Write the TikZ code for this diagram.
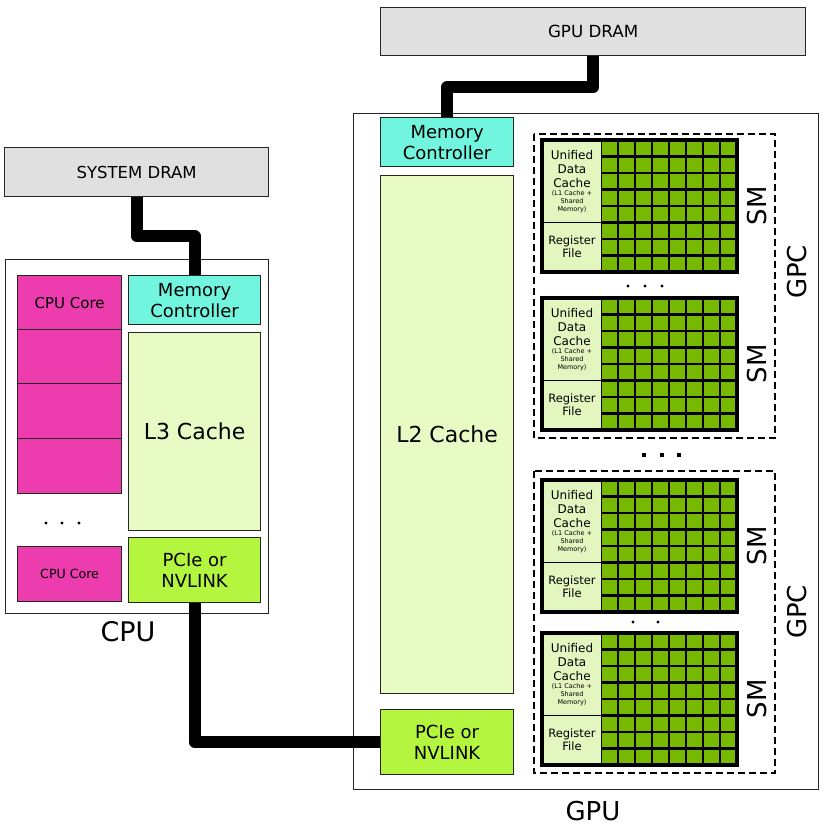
\documentclass[tikz,border=0pt]{standalone}
\usepackage{fontspec}
\setmainfont{DejaVu Sans}
\definecolor{corepink}{HTML}{EC3CAE}
\definecolor{memctl}{HTML}{72F5DE}
\definecolor{cachelt}{HTML}{E8FBC4}
\definecolor{linkgrn}{HTML}{B4F540}
\definecolor{smgreen}{HTML}{76B900}
\definecolor{panelgrn}{HTML}{E4F6C0}
\definecolor{dramgray}{HTML}{E0E0E0}
\newcommand{\fsz}[2]{\fontsize{#1}{#2}\selectfont}
\tikzset{
  blk/.style={draw=black!85, line width=1.2pt, anchor=north west, inner sep=0pt, align=center},
  wire/.style={line width=12pt, line join=round},
  gpcbox/.style={draw, dash pattern=on 7pt off 4pt, line width=1.8pt},
  cell/.style={line width=2.4pt},
}
\begin{document}
\begin{tikzpicture}[x=1pt,y=-1pt]
\useasboundingbox (0,0) rectangle (828,836);
% memories
\node[blk, fill=dramgray, minimum width=264pt, minimum height=49pt, font=\fsz{16.5}{20}] (sysdram) at (4,147) {SYSTEM DRAM};
\node[blk, fill=dramgray, minimum width=425pt, minimum height=48pt, font=\fsz{16.7}{20}] (gpudram) at (380,7) {GPU DRAM};
% CPU
\node[blk, fill=white, minimum width=263pt, minimum height=354pt] (cpu) at (5,259) {};
\node[font=\fsz{27}{30}] (cpulbl) at (128,632) {CPU};
\node[blk, fill=corepink, minimum width=104pt, minimum height=54pt, font=\fsz{15}{18}] (core1) at (17,275) {CPU Core};
\node[blk, fill=corepink, minimum width=104pt, minimum height=54pt] (core2) at (17,329) {};
\node[blk, fill=corepink, minimum width=104pt, minimum height=55pt] (core3) at (17,383) {};
\node[blk, fill=corepink, minimum width=104pt, minimum height=55pt] (core4) at (17,438) {};
\node[blk, fill=corepink, minimum width=104pt, minimum height=55pt, font=\fsz{12.6}{15}] (coren) at (17,546) {CPU Core};
\foreach \x in {46,62,79} \fill (\x,523) circle (1.6pt);
\node[blk, fill=memctl, minimum width=132pt, minimum height=49pt, font=\fsz{18}{21}] (cpumc) at (128,275) {Memory\\Controller};
\node[blk, fill=cachelt, minimum width=132pt, minimum height=198pt, font=\fsz{22}{26}] (l3) at (128,332) {L3 Cache};
\node[blk, fill=linkgrn, minimum width=132pt, minimum height=65pt, font=\fsz{18}{21}] (cpulink) at (128,537) {PCIe or\\NVLINK};
% GPU
\node[blk, fill=white, minimum width=465pt, minimum height=676pt] (gpu) at (353,113) {};
\node[font=\fsz{26}{30}] (gpulbl) at (593,811) {GPU};
\node[blk, fill=memctl, minimum width=133pt, minimum height=49pt, font=\fsz{18}{21}] (gpumc) at (380,117) {Memory\\Controller};
\node[blk, fill=cachelt, minimum width=133pt, minimum height=518pt, font=\fsz{22}{26}] (l2) at (380,175) {L2 Cache};
\node[blk, fill=linkgrn, minimum width=133pt, minimum height=65pt, font=\fsz{18}{21}] (gpulink) at (380,709) {PCIe or\\NVLINK};
% GPCs
\draw[gpcbox] (534,134) rectangle (775,438);
\draw[gpcbox] (534,471) rectangle (775,773);
\node[rotate=90, font=\fsz{26}{30}] (gpc1) at (797,272) {GPC};
\node[rotate=90, font=\fsz{26}{30}] (gpc2) at (797,612) {GPC};
% SMs
\foreach \y/\n in {140/1,298/2,480/3,633/4}{
  \fill[smgreen] (601,\y) rectangle (737,{\y+132});
  \foreach \c in {1,...,7} \draw[cell] ({601+17*\c},\y) -- ++(0,132);
  \foreach \r in {1,...,7} \draw[cell] (601,{\y+16.5*\r}) -- ++(136,0);
  \draw[line width=1pt, fill=panelgrn] (542,\y) rectangle (601,{\y+82.5});
  \draw[line width=1pt, fill=panelgrn] (542,{\y+82.5}) rectangle (601,{\y+132});
  \draw[line width=4pt] (542,\y) rectangle (737,{\y+132});
  \node[font=\fsz{12}{14}, align=center] (ucache\n) at (572,{\y+29}) {Unified\\Data\\Cache};
  \node[font=\fsz{6.5}{8}, align=center] (l1note\n) at (572,{\y+62}) {(L1 Cache +\\Shared\\Memory)};
  \node[font=\fsz{11.5}{13.5}, align=center] (regf\n) at (572,{\y+106.5}) {Register\\File};
  \node[rotate=90, font=\fsz{26}{30}] (smlbl\n) at (757,{\y+66}) {SM};
}
\foreach \x in {628,645,662} \fill (\x,286) circle (1.6pt);
\foreach \x in {644,662,679} \fill (\x-2,453) rectangle (\x+2,457);
\foreach \x in {633,658} \fill (\x,622) circle (1.6pt);
% links
\draw[wire] (sysdram.south) -- ++(0,39) -| (cpumc.north);
\draw[wire] (gpudram.south) -- ++(0,31) -| (gpumc.north);
\draw[wire] (cpulink.south) |- (gpulink.west);
\end{tikzpicture}
\end{document}
